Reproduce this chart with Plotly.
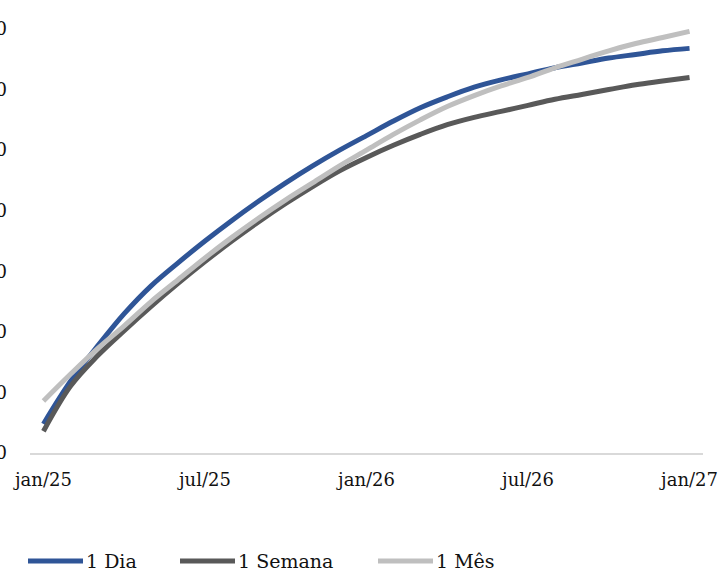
import plotly.graph_objects as go

# Monthly points, jan/25 .. jan/27
months = ["jan/25", "fev/25", "mar/25", "abr/25", "mai/25", "jun/25", "jul/25",
          "ago/25", "set/25", "out/25", "nov/25", "dez/25", "jan/26", "fev/26",
          "mar/26", "abr/26", "mai/26", "jun/26", "jul/26", "ago/26", "set/26",
          "out/26", "nov/26", "dez/26", "jan/27"]

series_names = ["1 Dia", "1 Semana", "1 Mês"]

dia = [12.24, 12.59, 12.88, 13.15, 13.38, 13.57, 13.75, 13.92, 14.08, 14.23,
       14.37, 14.50, 14.62, 14.74, 14.85, 14.94, 15.02, 15.08, 15.13, 15.18,
       15.22, 15.26, 15.29, 15.32, 15.34]

semana = [12.18, 12.55, 12.80, 13.01, 13.21, 13.40, 13.58, 13.75, 13.91, 14.06,
          14.20, 14.33, 14.44, 14.54, 14.63, 14.71, 14.77, 14.82, 14.87, 14.92,
          14.96, 15.00, 15.04, 15.07, 15.10]

mes = [12.43, 12.65, 12.86, 13.05, 13.25, 13.43, 13.61, 13.78, 13.94, 14.09,
       14.23, 14.37, 14.50, 14.63, 14.75, 14.86, 14.95, 15.03, 15.10, 15.18,
       15.25, 15.32, 15.38, 15.43, 15.48]

x_tick_labels = ["jan/25", "jul/25", "jan/26", "jul/26", "jan/27"]
y_tick_values = [12.0, 12.5, 13.0, 13.5, 14.0, 14.5, 15.0, 15.5]
y_tick_labels = ["12,00", "12,50", "13,00", "13,50", "14,00", "14,50", "15,00", "15,50"]

colors = ["#2F5597", "#595959", "#BFBFBF"]
FONT = "DejaVu Serif"
TEXT = "#111111"

W, H = 725, 574
ML, MR, MT, MB = 30, 22, 29, 121

fig = go.Figure()
for name, vals, col in zip(series_names, [dia, semana, mes], colors):
    fig.add_trace(go.Scatter(
        x=months, y=vals, name=name, mode="lines",
        line=dict(color=col, width=5, shape="spline", smoothing=1.0),
        showlegend=False,
    ))

# Legend drawn below the plot with long line samples
plot_w = W - ML - MR
plot_h = H - MT - MB


def px_to_paper_x(px):
    return (px - ML) / plot_w


def px_to_paper_y(py):
    return (H - MB - py) / plot_h


legend_y = px_to_paper_y(561)
legend_starts = [28, 180, 378]
sample_len = 55
for name, col, x0 in zip(series_names, colors, legend_starts):
    fig.add_shape(type="line", xref="paper", yref="paper",
                  x0=px_to_paper_x(x0), x1=px_to_paper_x(x0 + sample_len),
                  y0=legend_y, y1=legend_y,
                  line=dict(color=col, width=5))
    fig.add_annotation(xref="paper", yref="paper",
                       x=px_to_paper_x(x0 + sample_len + 1), y=legend_y,
                       xanchor="left", yanchor="middle", showarrow=False,
                       text=name, font=dict(family=FONT, size=19, color=TEXT))

fig.update_layout(
    width=W, height=H,
    margin=dict(l=ML, r=MR, t=MT, b=MB, pad=0, autoexpand=False),
    paper_bgcolor="white", plot_bgcolor="white",
    font=dict(family=FONT, size=18, color=TEXT),
    showlegend=False,
)
fig.update_xaxes(
    type="category", range=[-0.5, len(months) - 0.5],
    tickmode="array", tickvals=x_tick_labels, ticktext=x_tick_labels,
    showgrid=False, zeroline=False, automargin=False,
    showline=True, linecolor="#D9D9D9", linewidth=2,
    ticks="", ticklabelstandoff=9,
    tickfont=dict(family=FONT, size=18, color=TEXT),
)
fig.update_yaxes(
    range=[12.0, 15.5], automargin=False,
    tickmode="array", tickvals=y_tick_values, ticktext=y_tick_labels,
    showgrid=False, zeroline=False, showline=False,
    ticks="", ticklabelstandoff=22,
    tickfont=dict(family=FONT, size=18, color=TEXT),
)

fig.write_html("out.html")
